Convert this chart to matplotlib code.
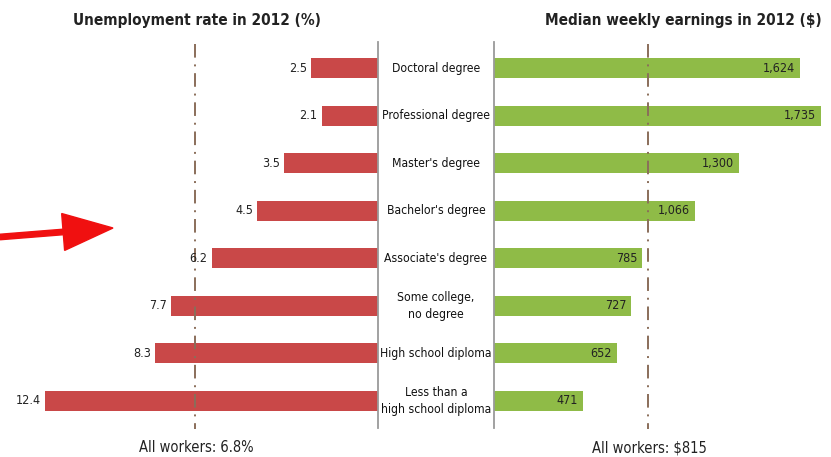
import matplotlib.pyplot as plt
from matplotlib.patches import FancyArrow
from matplotlib.transforms import blended_transform_factory

categories = ["Doctoral degree", "Professional degree", "Master's degree",
              "Bachelor's degree", "Associate's degree",
              "Some college,\nno degree", "High school diploma",
              "Less than a\nhigh school diploma"]
unemployment = [2.5, 2.1, 3.5, 4.5, 6.2, 7.7, 8.3, 12.4]
earnings = [1624, 1735, 1300, 1066, 785, 727, 652, 471]
earn_labels = ["1,624", "1,735", "1,300", "1,066", "785", "727", "652", "471"]
all_unemp = 6.8
all_earn = 815

red = '#c94848'
green = '#8fbb47'
dash_col = '#8a6e5a'
axis_col = '#9a9a9a'
font = dict(family='DejaVu Sans', stretch='condensed')

fig = plt.figure(figsize=(8.31, 4.57), dpi=100)
ax_l = fig.add_axes([0.0, 0.0635, 0.4549, 0.8446])
ax_r = fig.add_axes([0.5945, 0.0635, 0.4055, 0.8446])

ypos = list(range(len(categories)))

ax_l.barh(ypos, unemployment, height=0.42, color=red)
ax_l.set_xlim(14.08, 0)
ax_r.barh(ypos, earnings, height=0.42, color=green)
ax_r.set_xlim(0, 1788)

for ax in (ax_l, ax_r):
    ax.set_ylim(7.57, -0.55)
    ax.set_xticks([])
    ax.set_yticks([])
    for s in ax.spines.values():
        s.set_visible(False)

ax_l.spines['right'].set_visible(True)
ax_l.spines['right'].set_color(axis_col)
ax_l.spines['right'].set_linewidth(1.3)
ax_r.spines['left'].set_visible(True)
ax_r.spines['left'].set_color(axis_col)
ax_r.spines['left'].set_linewidth(1.3)

# reference lines
ax_l.plot([all_unemp, all_unemp], [-0.5, 7.6], color=dash_col, lw=1.4,
          linestyle=(0, (7, 3.5, 1, 3.5)), clip_on=False, zorder=3)
ax_r.plot([all_earn, all_earn], [-0.5, 7.6], color=dash_col, lw=1.4,
          linestyle=(0, (7, 3.5, 1, 3.5)), clip_on=False, zorder=3)

# value labels
for y, v in zip(ypos, unemployment):
    ax_l.text(v + 0.15, y, f"{v:.1f}", ha='right', va='center',
              fontsize=9, color='#222222', **font)
for y, v, lab in zip(ypos, earnings, earn_labels):
    ax_r.text(v - 25, y, lab, ha='right', va='center', fontsize=9,
              color='#222222', zorder=4, **font)

# category labels between the panels
tr = blended_transform_factory(fig.transFigure, ax_l.transData)
for y, c in zip(ypos, categories):
    ax_l.text(436 / 831, y, c, transform=tr, ha='center', va='center',
              fontsize=8.7, color='#111111', linespacing=1.35,
              clip_on=False, **font)

# titles and footers
fig.text(197 / 831, 1 - 20 / 457, "Unemployment rate in 2012 (%)",
         ha='center', va='center', fontsize=11, fontweight='bold',
         color='#222222', **font)
fig.text(683 / 831, 1 - 20 / 457, "Median weekly earnings in 2012 ($)",
         ha='center', va='center', fontsize=11, fontweight='bold',
         color='#222222', **font)
fig.text(196 / 831, 1 - 448 / 457, "All workers: 6.8%", ha='center',
         va='center', fontsize=10.5, color='#222222', **font)
fig.text(649 / 831, 1 - 448 / 457, "All workers: $815", ha='center',
         va='center', fontsize=10.5, color='#222222', **font)

# red arrow pointing at the chart
arrow = FancyArrow(0.0, 2.20, 1.13, 0.09, width=0.055, head_width=0.37,
                   head_length=0.50, length_includes_head=True,
                   color='#f01010', transform=fig.dpi_scale_trans)
fig.patches.append(arrow)

fig.savefig('out.png', dpi=100)
